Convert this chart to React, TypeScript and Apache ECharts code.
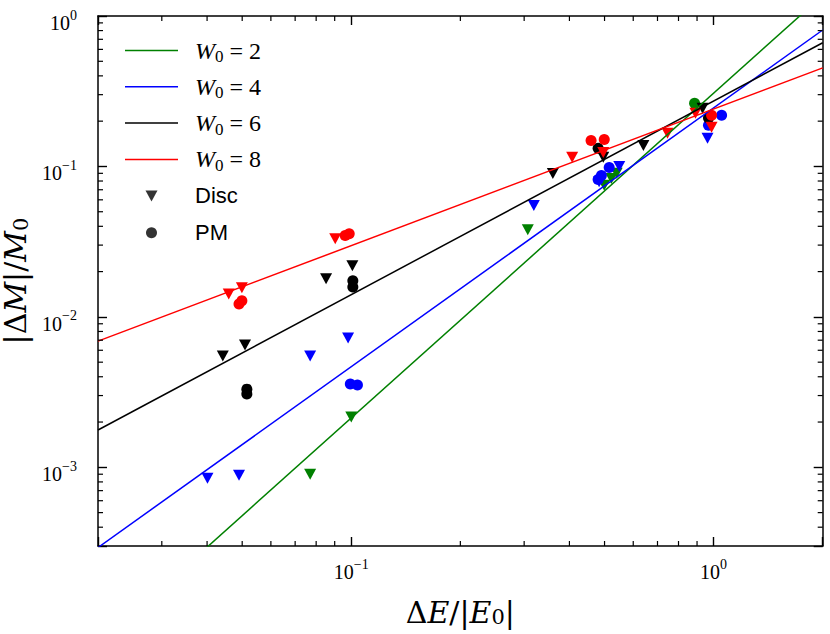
import React, { useEffect, useRef } from 'react';
import * as echarts from 'echarts';

// axis ranges
const X_MIN = 0.02;
const X_MAX = 2;
const Y_MIN = 3e-4;
const Y_MAX = 1;

// minor tick values (log axes)
const X_MINOR = [0.03, 0.04, 0.05, 0.06, 0.07, 0.08, 0.09, 0.2, 0.3, 0.4, 0.5, 0.6, 0.7, 0.8, 0.9];
const Y_MINOR = [
  4e-4, 5e-4, 6e-4, 7e-4, 8e-4, 9e-4,
  2e-3, 3e-3, 4e-3, 5e-3, 6e-3, 7e-3, 8e-3, 9e-3,
  2e-2, 3e-2, 4e-2, 5e-2, 6e-2, 7e-2, 8e-2, 9e-2,
  0.2, 0.3, 0.4, 0.5, 0.6, 0.7, 0.8, 0.9,
];

// W0 values and colours
const W0 = ['2', '4', '6', '8'];
const COLORS = ['#008000', '#0000ff', '#000000', '#ff0000'];

// power-law fit lines: value at x = 0.02 and at x = 2
const FIT_X = [0.02, 2];
const FIT_W2 = [6.6e-5, 1.37];
const FIT_W4 = [2.93e-4, 0.807];
const FIT_W6 = [1.77e-3, 0.664];
const FIT_W8 = [6.9e-3, 0.452];

// Disc (triangles)
const DISC_W2 = [[0.077, 9.0e-4], [0.1, 2.16e-3], [0.307, 0.038], [0.499, 0.075], [0.522, 0.083], [0.54, 0.09]];
const DISC_W4 = [[0.0401, 8.45e-4], [0.049, 8.85e-4], [0.077, 5.5e-3], [0.098, 7.24e-3], [0.319, 0.055], [0.483, 0.079], [0.549, 0.1], [0.962, 0.154]];
const DISC_W6 = [[0.0442, 5.5e-3], [0.0509, 6.5e-3], [0.0852, 0.0179], [0.1007, 0.0219], [0.36, 0.0898], [0.496, 0.115], [0.64, 0.138], [0.932, 0.244]];
const DISC_W8 = [[0.0459, 0.0142], [0.0499, 0.0156], [0.0903, 0.0331], [0.407, 0.115], [0.496, 0.124], [0.746, 0.166], [0.891, 0.226], [0.987, 0.182]];

// PM (circles)
const PM_W2 = [[0.886, 0.263]];
const PM_W4 = [[0.0994, 3.58e-3], [0.104, 3.52e-3], [0.48, 0.082], [0.49, 0.087], [0.515, 0.0985], [0.968, 0.188], [1.052, 0.219]];
const PM_W6 = [[0.0515, 3.31e-3], [0.0515, 3.07e-3], [0.101, 0.0174], [0.101, 0.0158], [0.48, 0.132], [0.968, 0.21]];
const PM_W8 = [[0.049, 0.0122], [0.0499, 0.0128], [0.0962, 0.0347], [0.0987, 0.0357], [0.459, 0.149], [0.499, 0.151], [0.987, 0.219]];

const FITS = [FIT_W2, FIT_W4, FIT_W6, FIT_W8];
const DISCS = [DISC_W2, DISC_W4, DISC_W6, DISC_W8];
const PMS = [PM_W2, PM_W4, PM_W6, PM_W8];

const SERIF = '"Liberation Serif", "DejaVu Serif", serif';
const WIDE_SERIF = '"DejaVu Serif", serif';
const SANS = '"Liberation Sans", "DejaVu Sans", sans-serif';

const LINE_ICON = 'path://M0,0L53,0L53,1.5L0,1.5Z';
const TRI_ICON = 'path://M0,0L12,0L6,11Z';

const MINOR_LEN = 5;
const MINOR_W = 1.2;

const tickLabel = (v: number) => {
  const e = Math.log10(v);
  const r = Math.round(e);
  if (Math.abs(e - r) > 1e-6) return '';
  const exp = r < 0 ? '\u2212' + -r : String(r);
  return `{b|10}{s|${exp}}`;
};

const tickRich = {
  b: { fontFamily: SERIF, fontSize: 20, lineHeight: 34, padding: [14, 0, 0, 0], color: '#000' },
  s: { fontFamily: SERIF, fontSize: 14, padding: [0, 0, 2, 0], color: '#000' },
};

const nameRich = {
  u: { fontFamily: WIDE_SERIF, fontSize: 30, lineHeight: 36, color: '#000' },
  i: { fontFamily: WIDE_SERIF, fontSize: 30, lineHeight: 36, fontStyle: 'italic', color: '#000' },
  sub: { fontFamily: WIDE_SERIF, fontSize: 21, lineHeight: 36, padding: [10, 0, 0, 0], color: '#000' },
};

// minor ticks drawn by a custom series; positions along the axis come from the axis scale
const minorTickSeries = (name: string, vals: number[], onX: boolean) => ({
  type: 'custom',
  name,
  data: vals.map((v) => (onX ? [v, 0.01] : [0.1, v])),
  silent: true,
  clip: false,
  z: 10,
  renderItem: (params: any, api: any) => {
    const cs = params.coordSys;
    const p = api.coord([api.value(0), api.value(1)]);
    const len = MINOR_LEN;
    const w = MINOR_W;
    const style = { fill: '#000' };
    if (onX) {
      return {
        type: 'group',
        children: [
          { type: 'rect', shape: { x: p[0] - w / 2, y: cs.y + cs.height - len, width: w, height: len }, style },
          { type: 'rect', shape: { x: p[0] - w / 2, y: cs.y, width: w, height: len }, style },
        ],
      };
    }
    return {
      type: 'group',
      children: [
        { type: 'rect', shape: { x: cs.x, y: p[1] - w / 2, width: len, height: w }, style },
        { type: 'rect', shape: { x: cs.x + cs.width - len, y: p[1] - w / 2, width: len, height: w }, style },
      ],
    };
  },
});

export default function App() {
  const ref = useRef<HTMLDivElement>(null);

  useEffect(() => {
    if (!ref.current) return;
    const chart = echarts.init(ref.current, undefined, { renderer: 'svg' });

    const lineNames = W0.map((w) => 'W' + w);

    const series: any[] = [];
    W0.forEach((w, k) => {
      series.push({
        type: 'scatter',
        name: 'disc' + w,
        data: DISCS[k],
        symbol: 'triangle',
        symbolRotate: 180,
        symbolSize: [12, 11],
        itemStyle: { color: COLORS[k], opacity: 1 },
        z: 3,
      });
      series.push({
        type: 'scatter',
        name: 'pm' + w,
        data: PMS[k],
        symbol: 'circle',
        symbolSize: 11,
        itemStyle: { color: COLORS[k], opacity: 1 },
        z: 3,
      });
    });
    W0.forEach((w, k) => {
      series.push({
        type: 'line',
        name: lineNames[k],
        data: FIT_X.map((x, j) => [x, FITS[k][j]]),
        showSymbol: false,
        symbol: 'none',
        color: COLORS[k],
        lineStyle: { color: COLORS[k], width: 1.5 },
        clip: true,
        z: 4,
      });
    });
    series.push({ type: 'scatter', name: 'Disc', data: [], color: '#000' });
    series.push({ type: 'scatter', name: 'PM', data: [], color: '#000' });
    series.push(minorTickSeries('xminor', X_MINOR, true));
    series.push(minorTickSeries('yminor', Y_MINOR, false));

    const axisCommon = {
      type: 'log',
      logBase: 10,
      splitLine: { show: false },
      axisLine: { show: true, onZero: false, lineStyle: { color: '#000', width: 1.5 } },
      axisTick: { show: true, inside: true, length: 9, lineStyle: { color: '#000', width: 1.4 } },
      minorTick: { show: false },
    };

    const option: any = {
      animation: false,
      backgroundColor: '#fff',
      grid: { left: 98, right: 7.3, top: 16, bottom: 88, containLabel: false, outerBoundsMode: 'none' },
      xAxis: [
        {
          ...axisCommon,
          min: X_MIN,
          max: X_MAX,
          position: 'bottom',
          axisLabel: { show: true, margin: 2, formatter: tickLabel, rich: tickRich, hideOverlap: false },
          name: '{u|\u0394}{i|E}{u|/|}{i|E}{sub|0}{u||}',
          nameLocation: 'middle',
          nameGap: 48,
          nameTextStyle: { rich: nameRich },
        },
        {
          ...axisCommon,
          min: X_MIN,
          max: X_MAX,
          position: 'top',
          axisLabel: { show: false },
        },
      ],
      yAxis: [
        {
          ...axisCommon,
          min: Y_MIN,
          max: Y_MAX,
          position: 'left',
          axisLabel: { show: true, margin: 21, formatter: tickLabel, rich: tickRich, hideOverlap: false },
          name: '{u||\u0394}{i|M}{u||/}{i|M}{sub|0}',
          nameLocation: 'middle',
          nameRotate: 90,
          nameGap: 57,
          nameTextStyle: { rich: nameRich },
        },
        {
          ...axisCommon,
          min: Y_MIN,
          max: Y_MAX,
          position: 'right',
          axisLabel: { show: false },
        },
      ],
      legend: {
        orient: 'vertical',
        left: 120,
        top: 31,
        itemWidth: 53,
        itemHeight: 11,
        itemGap: 7.3,
        selectedMode: false,
        itemStyle: { borderWidth: 0 },
        data: [
          ...lineNames.map((n) => ({ name: n, icon: LINE_ICON })),
          { name: 'Disc', icon: TRI_ICON },
          { name: 'PM', icon: 'circle' },
        ],
        formatter: (name: string) => {
          if (name.startsWith('W')) return `{i|W}{sub|0}{t| = ${name.slice(1)}}`;
          return `{s|${name}}`;
        },
        textStyle: {
          color: '#000',
          lineHeight: 24,
          rich: {
            i: { fontFamily: SERIF, fontStyle: 'italic', fontSize: 24, lineHeight: 24, padding: [0, 0, 0, 12], color: '#000' },
            sub: { fontFamily: SERIF, fontSize: 17, lineHeight: 24, padding: [12, 0, 0, 0], color: '#000' },
            t: { fontFamily: SERIF, fontSize: 24, lineHeight: 24, color: '#000' },
            s: { fontFamily: SANS, fontSize: 22, lineHeight: 29.5, padding: [0, 0, 0, 12], color: '#000' },
          },
        },
      },
      series,
    };

    chart.setOption(option);
    return () => chart.dispose();
  }, []);

  return <div ref={ref} style={{ position: 'absolute', left: 0, top: 0, width: 830, height: 634 }} />;
}
